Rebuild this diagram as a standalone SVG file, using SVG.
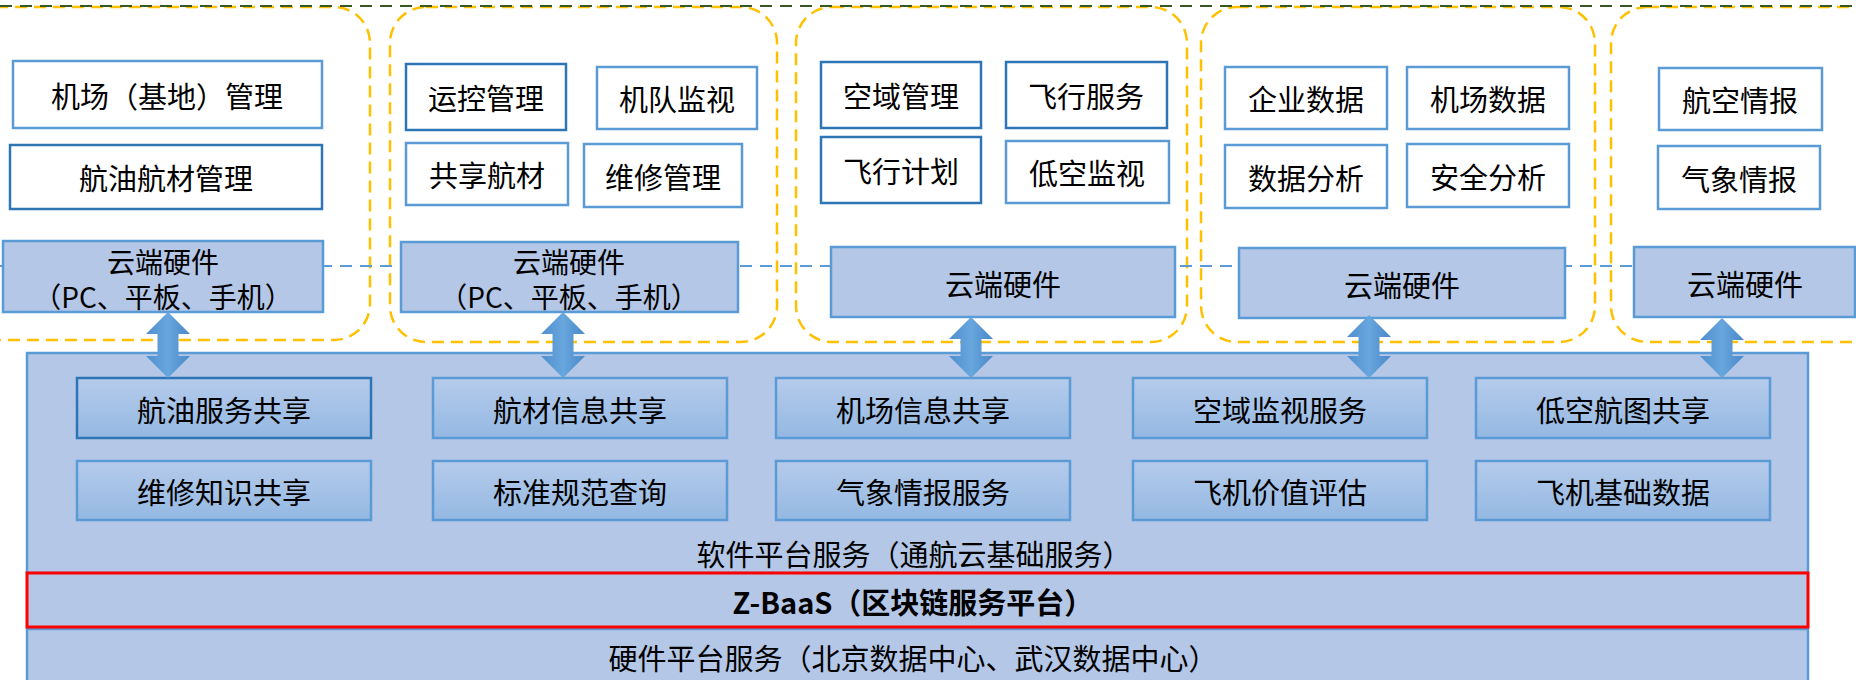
<svg xmlns="http://www.w3.org/2000/svg" width="1856" height="680" viewBox="0 0 1856 680">
<defs>
<linearGradient id="svcGrad" x1="0" y1="0" x2="0" y2="1">
<stop offset="0" stop-color="#B5CBEB"/>
<stop offset="1" stop-color="#94B8E2"/>
</linearGradient>
<linearGradient id="arrGrad" x1="0" y1="0" x2="1" y2="0">
<stop offset="0" stop-color="#4F8FCE"/>
<stop offset="0.5" stop-color="#68A6DE"/>
<stop offset="1" stop-color="#4A88C8"/>
</linearGradient>
<style>
text{font-family:"Noto Sans CJK SC","Noto Sans",sans-serif;font-size:29px;fill:#000;text-anchor:middle;dominant-baseline:central}
.b{font-weight:bold}
.two{font-size:28px}
.app{fill:#fff;stroke:#5B9BD5;stroke-width:2.5}
.appd{fill:#fff;stroke:#2E75B6;stroke-width:2.5}
.hw{fill:#B4C7E7;stroke:#5B9BD5;stroke-width:2.5}
.svc{fill:url(#svcGrad);stroke:#5B9BD5;stroke-width:2.5}
.svcd{fill:url(#svcGrad);stroke:#2E75B6;stroke-width:2.5}
.plat{fill:#B4C7E7;stroke:#5B9BD5;stroke-width:2.5}
.grp{fill:none;stroke:#FFC000;stroke-width:2.5;stroke-dasharray:12 7}
.arr{fill:url(#arrGrad);stroke:none}
</style>
</defs>
<rect width="1856" height="680" fill="#fff"/>
<g id="zone-groups">
<rect class="grp" x="-40" y="7" width="410" height="333" rx="36"/>
<rect class="grp" x="390" y="7" width="387" height="335" rx="36"/>
<rect class="grp" x="796" y="7" width="391" height="335" rx="36"/>
<rect class="grp" x="1201" y="7" width="394" height="335" rx="36"/>
<rect class="grp" x="1611" y="7" width="300" height="335" rx="36"/>
</g>
<line x1="0" y1="6" x2="1856" y2="6" stroke="#385723" stroke-width="2.2" stroke-dasharray="12 8"/>
<line x1="0" y1="266" x2="1856" y2="266" stroke="#5B9BD5" stroke-width="2" stroke-dasharray="12 8"/>
<g id="col1">
<g id="n-jichang-guanli"><rect class="app" x="13" y="61" width="309" height="67"/><text x="167" y="95">机场（基地）管理</text></g>
<g id="n-hangyou-hangcai"><rect class="appd" x="10" y="145" width="312" height="64"/><text x="166" y="177">航油航材管理</text></g>
<g id="n-hw1"><rect class="hw" x="3" y="241" width="320" height="71"/><text class="two" x="163" y="261"><tspan x="163" y="261">云端硬件</tspan><tspan x="163" y="296">（PC、平板、手机）</tspan></text></g>
</g>
<g id="col2">
<g id="n-yunkong"><rect class="appd" x="406" y="64" width="160" height="66"/><text x="486" y="97">运控管理</text></g>
<g id="n-jidui"><rect class="app" x="597" y="67" width="160" height="62"/><text x="677" y="98">机队监视</text></g>
<g id="n-gongxiang"><rect class="app" x="406" y="143" width="162" height="62"/><text x="487" y="174">共享航材</text></g>
<g id="n-weixiu"><rect class="app" x="584" y="144" width="158" height="63"/><text x="663" y="176">维修管理</text></g>
<g id="n-hw2"><rect class="hw" x="401" y="242" width="337" height="70"/><text class="two" x="569" y="261"><tspan x="569" y="261">云端硬件</tspan><tspan x="569" y="296">（PC、平板、手机）</tspan></text></g>
</g>
<g id="col3">
<g id="n-kongyu"><rect class="appd" x="821" y="62" width="160" height="66"/><text x="901" y="95">空域管理</text></g>
<g id="n-feixing-fuwu"><rect class="appd" x="1006" y="62" width="161" height="66"/><text x="1086" y="95">飞行服务</text></g>
<g id="n-feixing-jihua"><rect class="appd" x="821" y="137" width="160" height="66"/><text x="901" y="170">飞行计划</text></g>
<g id="n-dikong"><rect class="app" x="1006" y="141" width="163" height="62"/><text x="1087" y="172">低空监视</text></g>
<g id="n-hw3"><rect class="hw" x="831" y="247" width="344" height="70"/><text x="1003" y="283">云端硬件</text></g>
</g>
<g id="col4">
<g id="n-qiye"><rect class="app" x="1225" y="67" width="162" height="62"/><text x="1306" y="98">企业数据</text></g>
<g id="n-jichang-shuju"><rect class="app" x="1407" y="67" width="162" height="62"/><text x="1488" y="98">机场数据</text></g>
<g id="n-shuju-fenxi"><rect class="app" x="1225" y="145" width="162" height="63"/><text x="1306" y="177">数据分析</text></g>
<g id="n-anquan"><rect class="app" x="1407" y="144" width="162" height="63"/><text x="1488" y="176">安全分析</text></g>
<g id="n-hw4"><rect class="hw" x="1239" y="248" width="326" height="70"/><text x="1402" y="284">云端硬件</text></g>
</g>
<g id="col5">
<g id="n-hangkong"><rect class="app" x="1659" y="68" width="163" height="62"/><text x="1740" y="99">航空情报</text></g>
<g id="n-qixiang"><rect class="app" x="1658" y="146" width="162" height="63"/><text x="1739" y="178">气象情报</text></g>
<g id="n-hw5"><rect class="hw" x="1634" y="247" width="221" height="70"/><text x="1745" y="283">云端硬件</text></g>
</g>
<g id="platform">
<rect class="plat" x="27" y="353" width="1781" height="220"/>
<rect class="plat" x="27" y="629" width="1781" height="62"/>
<rect x="27" y="573" width="1781" height="54" fill="#B4C7E7" stroke="#FF0000" stroke-width="3"/>
<text x="914" y="553">软件平台服务（通航云基础服务）</text>
<text class="b" x="913" y="601">Z-BaaS（区块链服务平台）</text>
<text x="913" y="657">硬件平台服务（北京数据中心、武汉数据中心）</text>
</g>
<g id="services">
<g id="s1"><rect class="svcd" x="77" y="378" width="294" height="60"/><text x="224" y="409">航油服务共享</text></g>
<g id="s2"><rect class="svc" x="433" y="378" width="294" height="60"/><text x="580" y="409">航材信息共享</text></g>
<g id="s3"><rect class="svc" x="776" y="378" width="294" height="60"/><text x="923" y="409">机场信息共享</text></g>
<g id="s4"><rect class="svc" x="1133" y="378" width="294" height="60"/><text x="1280" y="409">空域监视服务</text></g>
<g id="s5"><rect class="svc" x="1476" y="378" width="294" height="60"/><text x="1623" y="409">低空航图共享</text></g>
<g id="s6"><rect class="svc" x="77" y="461" width="294" height="59"/><text x="224" y="491">维修知识共享</text></g>
<g id="s7"><rect class="svc" x="433" y="461" width="294" height="59"/><text x="580" y="491">标准规范查询</text></g>
<g id="s8"><rect class="svc" x="776" y="461" width="294" height="59"/><text x="923" y="491">气象情报服务</text></g>
<g id="s9"><rect class="svc" x="1133" y="461" width="294" height="59"/><text x="1280" y="491">飞机价值评估</text></g>
<g id="s10"><rect class="svc" x="1476" y="461" width="294" height="59"/><text x="1623" y="491">飞机基础数据</text></g>
</g>
<g id="connectors">
<path class="arr" d="M168,312 L190,334 L178.5,334 L178.5,356 L190,356 L168,378 L146,356 L157.5,356 L157.5,334 L146,334 Z"/>
<path class="arr" d="M563,312 L585,334 L573.5,334 L573.5,356 L585,356 L563,378 L541,356 L552.5,356 L552.5,334 L541,334 Z"/>
<path class="arr" d="M971,317 L993,339 L981.5,339 L981.5,356 L993,356 L971,378 L949,356 L960.5,356 L960.5,339 L949,339 Z"/>
<path class="arr" d="M1369,315 L1391,337 L1379.5,337 L1379.5,356 L1391,356 L1369,378 L1347,356 L1358.5,356 L1358.5,337 L1347,337 Z"/>
<path class="arr" d="M1722,318 L1744,340 L1732.5,340 L1732.5,356 L1744,356 L1722,378 L1700,356 L1711.5,356 L1711.5,340 L1700,340 Z"/>
</g>
</svg>
